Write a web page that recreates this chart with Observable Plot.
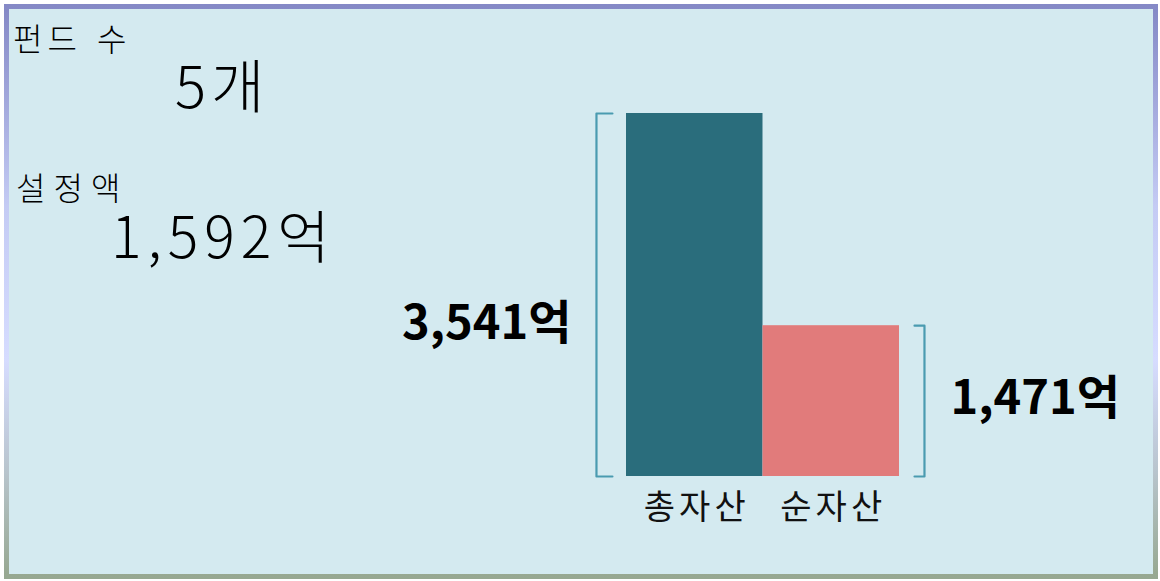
<!DOCTYPE html>
<html><head><meta charset="utf-8">
<script src="https://cdn.jsdelivr.net/npm/d3@7"></script>
<script src="https://cdn.jsdelivr.net/npm/@observablehq/plot@0.6"></script>
<style>
html,body{margin:0;padding:0;background:#ffffff;}
body{position:relative;width:1160px;height:581px;overflow:hidden;font-family:"Noto Sans CJK KR","Noto Sans",sans-serif;}
#frame{position:absolute;left:4px;top:4px;width:1154px;height:575px;box-sizing:border-box;border:5px solid #8a8fc8;
  border-image:linear-gradient(to bottom,#8589c6 0%,#c4cbf4 35%,#d6dcff 62%,#b8c4cc 82%,#97a891 100%) 1;background:#d4eaf0;}
#chart{position:absolute;left:0;top:0;}
.info{position:absolute;white-space:nowrap;color:#000;line-height:1;font-weight:300;}
</style></head>
<body>
<div id="frame"></div>
<div id="chart"></div>
<div id="info"></div>
<script>
// ---- data ----
const categories = ["총자산", "순자산"];
const values = [3541, 1471];
const valueLabels = ["3,541억", "1,471억"];
const infoTitles = ["펀드 수", "설정액"];
const infoValues = ["5개", "1,592억"];

// ---- styles ----
const barColors = ["#2a6d7c", "#e17b7b"];
const bracketColor = "#4a9bb0";

const rows = categories.map((c, i) => ({cat: c, i, value: values[i], label: valueLabels[i]}));

// bracket geometry (offsets in bar-index units relative to the outer bar edges)
const brackets = rows.flatMap(d => {
  const left = d.i === 0;
  const bx = left ? d.i - 0.22 : d.i + 1 + 0.183;
  const tx = left ? d.i - 0.103 : d.i + 1 + 0.11;
  return [
    {k: d.cat, x: tx, y: 0}, {k: d.cat, x: bx, y: 0},
    {k: d.cat, x: bx, y: d.value}, {k: d.cat, x: tx, y: d.value}
  ];
});

const chart = Plot.plot({
  width: 1160,
  height: 581,
  marginLeft: 626,
  marginRight: 261,
  marginTop: 113,
  marginBottom: 105,
  style: {background: "transparent", fontFamily: "'Noto Sans CJK KR', sans-serif", overflow: "visible"},
  x: {type: "linear", domain: [0, categories.length], axis: null},
  y: {domain: [0, d3.max(values)], axis: null},
  color: {domain: categories, range: barColors},
  marks: [
    Plot.rectY(rows, {x1: d => d.i, x2: d => d.i + 1, y1: 0, y2: "value", fill: "cat", inset: 0}),
    Plot.line(brackets, {x: "x", y: "y", z: "k", stroke: bracketColor, strokeWidth: 2.2, strokeLinejoin: "round", clip: false}),
    Plot.text(rows.filter(d => d.i === 0), {x: d => d.i, y: d => d.value / 2, text: "label", textAnchor: "end", dx: -55, dy: 29, fontSize: 47, fontWeight: "bold", fill: "#000"}),
    Plot.text(rows.filter(d => d.i === 1), {x: d => d.i + 1, y: d => d.value / 2, text: "label", textAnchor: "start", dx: 51, dy: -2, fontSize: 47, fontWeight: "bold", fill: "#000"}),
    Plot.text(rows, {x: d => d.i + 0.5, y: 0, text: "cat", lineAnchor: "top", dy: 18, dx: 2, fontSize: 34, fill: "#111"})
  ]
});
d3.select(chart).selectAll("text")
  .filter(function() { return categories.includes(this.textContent); })
  .attr("letter-spacing", "4px")
  .style("letter-spacing", "4px");
document.getElementById("chart").appendChild(chart);

// ---- left info panel ----
const info = document.getElementById("info");
const infoLayout = [
  {text: infoTitles[0], left: 13, top: 21, size: 32, ls: 5, ws: 3},
  {text: infoValues[0], left: 175, top: 54, size: 58, ls: 5, ws: 0},
  {text: infoTitles[1], left: 16, top: 170, size: 32, ls: 8, ws: 0},
  {text: infoValues[1], left: 111, top: 205, size: 57, ls: 6, ws: 0}
];
infoLayout.forEach(o => {
  const el = document.createElement("div");
  el.className = "info";
  el.textContent = o.text;
  el.style.left = o.left + "px";
  el.style.top = o.top + "px";
  el.style.fontSize = o.size + "px";
  el.style.letterSpacing = o.ls + "px";
  el.style.wordSpacing = o.ws + "px";
  info.appendChild(el);
});
</script>
</body></html>
